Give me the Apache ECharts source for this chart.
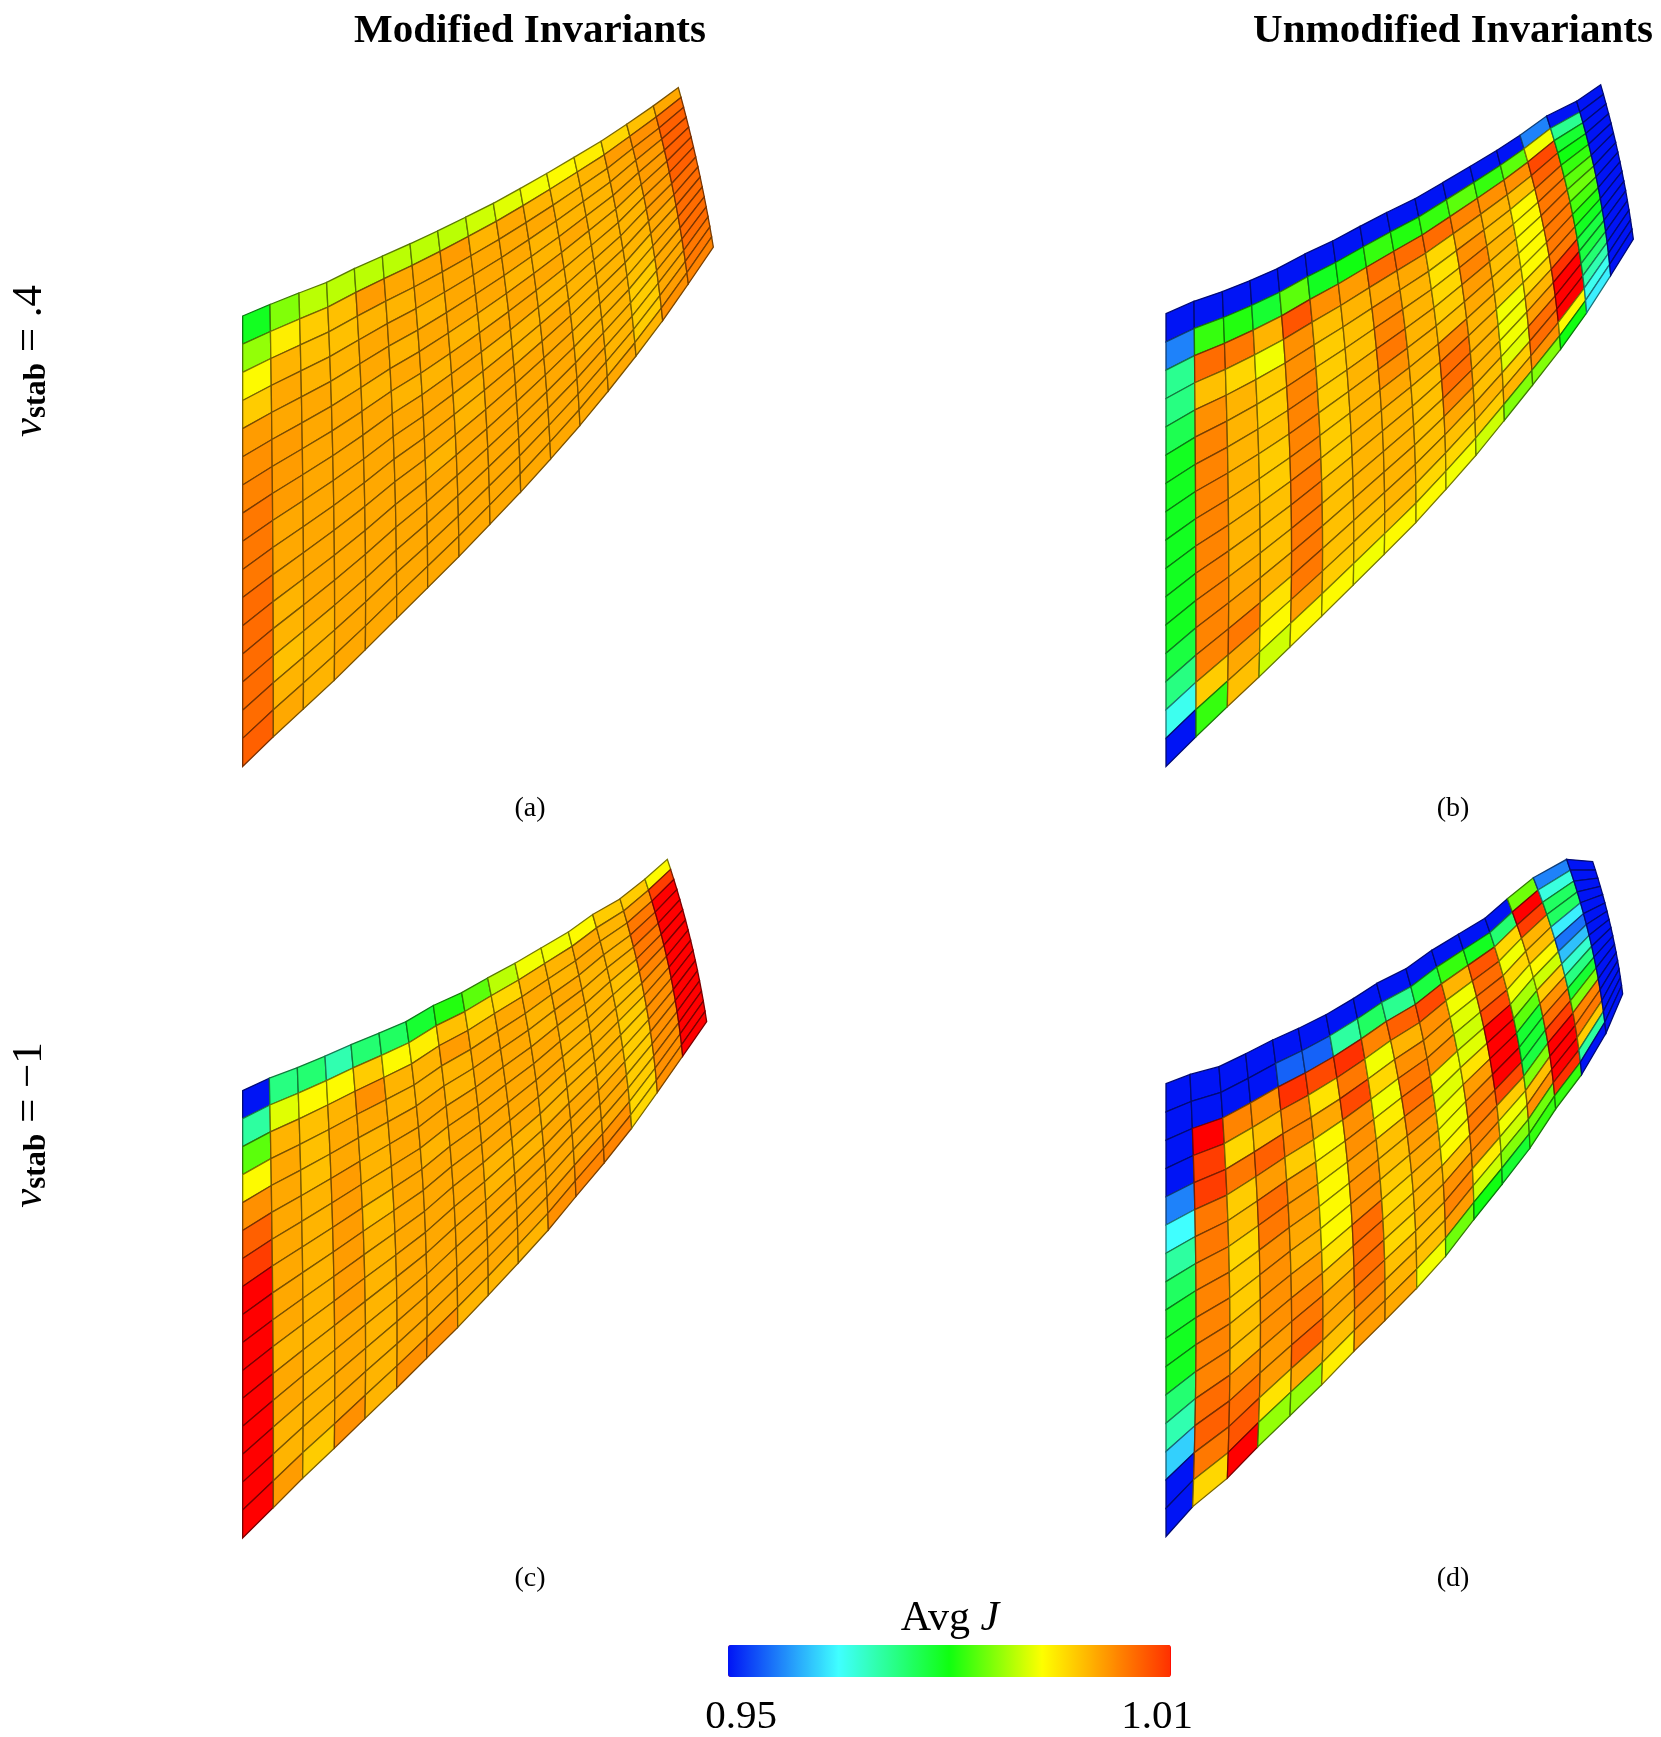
<!DOCTYPE html>
<html><head><meta charset="utf-8"><style>html,body{margin:0;padding:0;background:#fff}#c{width:1661px;height:1737px}</style>
<script src="https://cdn.jsdelivr.net/npm/echarts@6/dist/echarts.min.js"></script></head>
<body><div id="c"></div>
<script>
const columnTitles=['Modified Invariants','Unmodified Invariants'];
const panelLabels=['(a)','(b)','(c)','(d)'];
const colorbarTitle='Avg ';
const colorbarTicks=['0.95','1.01'];
const rowValues=['.4','\u22121'];

// mesh edge curves, in mesh units [x,y], one point per column line
const aTop=[[68,535],[150,510],[237,485],[320,462],[403,432],[487,405],[570,378],[653,350],[737,320],[820,290],[900,258],[980,225],[1062,190],[1143,155],[1220,118],[1300,78],[1375,38]];
const aMid=[[68,1025],[158,980],[249,937],[340,893],[431,846],[520,797],[610,753],[699,705],[789,655],[877,604],[961,553],[1046,500],[1128,445],[1209,390],[1286,329],[1362,271],[1434,211]];
const aBot=[[68,1515],[160,1450],[250,1390],[343,1327],[436,1261],[530,1193],[623,1126],[717,1058],[810,988],[902,918],[992,846],[1080,773],[1165,698],[1248,622],[1328,545],[1405,465],[1480,385]];
const bTop=[[48,530],[132,503],[217,482],[300,458],[382,432],[465,400],[548,372],[630,340],[710,310],[795,280],[878,245],[960,210],[1040,175],[1110,142],[1190,100],[1280,68],[1352,32]];
const bMid=[[48,1022],[137,976],[235,933],[328,889],[420,843],[510,795],[600,746],[690,696],[778,647],[865,596],[950,541],[1033,486],[1113,431],[1190,375],[1268,314],[1345,256],[1410,200]];
const bBot=[[48,1515],[138,1450],[232,1385],[327,1320],[420,1255],[515,1188],[610,1120],[703,1053],[798,984],[888,912],[978,838],[1063,762],[1148,685],[1232,607],[1310,528],[1382,447],[1450,368]];
const cTop=[[68,545],[148,518],[232,495],[315,470],[393,445],[477,420],[558,395],[640,360],[725,332],[803,300],[885,268],[963,235],[1045,200],[1118,162],[1200,128],[1275,85],[1342,42]];
const cMid=[[68,1032],[158,985],[248,941],[340,896],[430,851],[522,806],[610,762],[695,710],[785,661],[870,610],[955,559],[1035,505],[1118,451],[1195,395],[1273,338],[1347,277],[1412,218]];
const cBot=[[68,1518],[160,1452],[248,1388],[343,1323],[435,1258],[530,1192],[620,1127],[713,1060],[805,990],[895,920],[985,848],[1068,775],[1153,702],[1235,627],[1312,549],[1388,470],[1460,395]];
const dTop=[[48,530],[120,510],[207,493],[287,465],[368,435],[445,410],[528,380],[610,345],[680,312],[768,280],[845,240],[925,205],[1005,170],[1072,128],[1150,82],[1250,42],[1328,47]];
const dMid=[[48,1022],[138,980],[238,940],[328,892],[418,843],[508,797],[598,746],[685,695],[772,643],[858,592],[940,532],[1020,476],[1100,420],[1170,356],[1245,296],[1325,231],[1383,191]];
const dBot=[[48,1515],[128,1450],[232,1388],[323,1320],[420,1252],[515,1185],[612,1112],[705,1045],[800,975],[887,905],[972,825],[1057,748],[1140,670],[1217,585],[1295,510],[1368,420],[1418,335]];

// Avg J per element: one list per mesh column, rows top to bottom
const aValues=[
[.979,.987,.993,.997,1.001,1.002,1.003,1.004,1.004,1.004,1.005,1.005,1.005,1.005,1.005,1.006],
[.986,.994,.999,1,1,1.001,1.001,1.001,1,1,1,.999,.999,.998,.999,1],
[.989,.997,.998,.999,1,1,1,1,1,1,1,1,1,.999,.999,.999],
[.989,.998,.998,.999,.999,1,1,1,1,1,1,1,1,1,1,1],
[.989,1.001,.999,1,1,.999,1,1,1,1,1,1,1,1,1,1],
[.989,1,.999,1,.999,1,.999,1,1,1,1,1,1,1,1,1],
[.989,1,1,.999,1,1,.999,1,1,1,.999,1,1,1,1,1],
[.989,1.001,1,1,1,.999,1,1,.999,.999,1,1,1,1,1,1],
[.990,.999,1,1,1,.999,1,.999,1,1,1,1,1,1,1,1],
[.991,1,1,1,.999,1,1,.999,.999,1,1,1,1,1,1,1],
[.992,.999,1,.999,.999,1,.999,.999,1,1,1,1,1,1,1,1],
[.993,.998,.999,.999,1,.999,.999,.999,.999,.999,.999,.999,1,1,1,1],
[.994,.999,.999,.999,.999,.999,.999,.999,.999,.999,.999,.999,.999,.999,.999,1],
[.996,1.001,1,1,1,.999,.999,.999,.999,.998,.998,.997,.997,.997,.997,.999],
[.998,1.002,1.002,1.001,1.001,1.001,1.001,1.001,1,1,1,1,1,1,1.001,1.002],
[1,1.005,1.006,1.006,1.006,1.006,1.006,1.005,1.005,1.005,1.005,1.005,1.005,1.004,1.004,1.003]];
const bValues=[
[.95,.957,.972,.973,.976,.979,.979,.979,.979,.979,.979,.979,.977,.973,.966,.95],
[.95,.982,1.005,.998,1.002,1.003,1.003,1.003,1.003,1.003,1.003,1.003,1.003,1.003,.997,.982],
[.95,.981,1.004,.996,.999,.999,.999,.999,.999,.999,.999,1,1.001,1.004,1,.998],
[.95,.978,.999,.992,.997,.997,.998,.997,.997,.998,.998,.998,.999,.995,.993,.990],
[.95,.984,1.007,1.002,1.002,1.003,1.003,1.003,1.003,1.004,1.004,1.004,1.004,1.004,1.001,.993],
[.95,.979,1.002,.998,.997,.997,.997,.997,.997,.997,.998,.998,.998,.998,.997,.993],
[.95,.980,1.001,.999,.998,.998,.999,.999,.999,.999,.999,.999,.999,.998,.997,.992],
[.95,.982,1.005,1,1.002,1.003,1.004,1.002,1,.999,.999,.999,.999,.999,.998,.993],
[.95,.981,1.005,1,.999,.999,.999,.999,.999,.998,.998,.998,.998,.998,.996,.993],
[.95,.982,1.005,.996,.995,.996,.997,.998,1.003,1.005,1.005,1.003,1,.998,.996,.992],
[.95,.984,1.003,1,1.002,1.003,1.001,1,.999,.999,.999,.999,.998,.999,.997,.990],
[.95,.982,1.002,.999,.998,.999,.998,.998,.997,.992,.992,.992,.991,.997,.999,.986],
[.95,.984,1.002,.998,.993,.993,.993,.993,.993,.996,.999,1.001,1.005,1.005,1.002,.986],
[.957,.992,1.008,1.006,1.004,1.004,1.004,1.004,1.004,1.004,1.01,1.012,1.012,1.012,.993,.98],
[.95,.972,.978,.980,.982,.984,.985,.983,.981,.979,.977,.977,.974,.97,.966,.964],
[.95,.95,.95,.95,.95,.95,.95,.95,.95,.95,.95,.95,.95,.95,.95,.95]];
const cValues=[
[.95,.971,.984,.993,1.002,1.006,1.009,1.011,1.012,1.012,1.012,1.012,1.012,1.012,1.011,1.012],
[.973,.991,.999,1,1,1,1,1,1,1,.999,1,1,.999,.999,1.001],
[.974,.993,.998,.998,.998,.999,.999,.999,.999,.999,.999,.999,.999,.999,.999,.997],
[.970,.993,.999,1,1,1.001,1.001,1.001,1.001,1.001,1.001,1,1,1,1,1.002],
[.974,.997,1.002,1,.999,.999,.999,.998,.999,.999,.999,.999,.999,.999,.999,.999],
[.975,.993,.999,.999,1,1,1,1,1,1,1,1,1,1,1,1.002],
[.978,.994,.999,.999,1,1,.999,1,1,1,1,1,1,1,1,1.002],
[.981,.998,1.001,.999,.999,1,1,1,1,1,1,1,1,1,1,.999],
[.984,.996,.999,1,1,1,1,1,1,.999,.999,1,1,1,1,.999],
[.989,.996,1,1,1,1,1,1,1,.999,.999,1,1,1,1,.999],
[.992,.999,1,.999,.999,1,1,1,.999,.999,1,1,1,1,1.001,1.002],
[.992,.999,.999,1,1,.999,.999,.999,.999,.999,1,1,1,1,1.002,1.003],
[.993,1,1,.999,.999,.999,.999,.999,.999,.999,.999,1,1,1,1.002,1.003],
[.997,.999,.999,.999,.999,.998,.998,.998,.997,.997,.997,.997,.997,.997,.996,.996],
[.997,1.001,1.004,1.005,1.004,1.004,1.003,1.002,1.002,1.002,1.002,1.002,1.002,1.002,1.002,1.002],
[.993,1.009,1.012,1.012,1.012,1.012,1.012,1.012,1.012,1.012,1.012,1.012,1.012,1.012,1.012,1.012]];
const dValues=[
[.95,.95,.95,.95,.957,.965,.971,.975,.978,.979,.979,.974,.970,.962,.95,.95],
[.95,.95,1.012,1.009,1.009,1.004,1.004,1.003,1.003,1.003,1.003,1.003,1.005,1.006,1.004,.996],
[.95,.95,1.003,.996,1.004,.997,.998,.996,.997,.997,.998,.998,1.002,1.005,1.007,1.012],
[.95,.95,1.002,.998,1.006,1.001,1.005,1.004,1.002,1.002,1.002,1.002,1.001,1.001,.995,.987],
[.95,.955,1.010,1.003,1.003,.997,1.001,1.001,1,.999,1.001,1.003,1.004,1.006,1,.987],
[.95,.955,1.008,.995,1,.993,.994,.993,.993,.993,.995,.998,1,1,.998,.994],
[.95,.971,1.010,1.004,1.008,1.002,1.002,1.001,1.002,1.002,1.005,1.005,1.005,1.004,1.002,1.001],
[.95,.975,1.003,.992,.996,.992,.994,.998,.998,.997,.996,.997,.996,.998,.999,1],
[.95,.972,1.006,.999,1.002,1.004,1.005,1.003,1.001,1,.999,.999,.999,.998,.998,.992],
[.95,.977,1.008,1.002,1.001,1.002,.992,.991,.992,.992,.993,.998,1.002,1.003,1.001,.985],
[.95,.982,.999,.992,.991,.990,.991,.995,1.001,1.003,1.004,1.003,1.002,.994,.990,.980],
[.95,.979,1.007,1.005,1.005,1.008,1.012,1.012,1.012,1.012,1.008,.997,.992,.990,.986,.978],
[.95,.974,.996,.992,.996,.992,.988,.984,.978,.978,.977,.986,.998,1.002,.985,.982],
[.985,1.012,1.009,.999,.998,.993,.990,.997,1.002,1.005,1.009,1.012,1.012,1.012,1.01,.982],
[.957,.967,.975,.975,.964,.956,.961,.968,.973,.978,.986,1.003,1.004,.997,.971,.95],
[.95,.95,.95,.95,.95,.95,.95,.95,.95,.95,.95,.95,.95,.95,.95,.95]];

const meshes=[
 {top:aTop,mid:aMid,bot:aBot,values:aValues,left:220,y:70},
 {top:bTop,mid:bMid,bot:bBot,values:bValues,left:1150,y:70},
 {top:cTop,mid:cMid,bot:cBot,values:cValues,left:220,y:840},
 {top:dTop,mid:dMid,bot:dBot,values:dValues,left:1150,y:840}];

// colour scale
const anchors=[[0,[0,20,245]],[.25,[64,255,255]],[.5,[16,255,16]],[.71,[255,255,0]],[1,[255,48,0]]];
const palette=[];
for(let k=0;k<=24;k++){const t=k/24;let n=0;while(n<anchors.length-2&&t>anchors[n+1][0])n++;
 const A=anchors[n],B=anchors[n+1],f=(t-A[0])/(B[0]-A[0]);
 palette.push('rgb('+A[1].map((v,q)=>Math.round(v+(B[1][q]-v)*f)).join(',')+')');}

function node(m,i,j){const s=j/16,a=(1-s)*(1-2*s),b=4*s*(1-s),c=s*(2*s-1);
 return [0,1].map(q=>m.top[i][q]*a+m.mid[i][q]*b+m.bot[i][q]*c);}
function darker(color){const p=echarts.color.parse(color);return 'rgb('+[p[0],p[1],p[2]].map(v=>Math.round(v*.48)).join(',')+')';}
function mk(m){return function(params,api){
 const i=api.value(0),j=api.value(1);
 const pts=[node(m,i,j),node(m,i+1,j),node(m,i+1,j+1),node(m,i,j+1)].map(p=>api.coord(p));
 const fill=api.visual('color');
 return {type:'polygon',shape:{points:pts},style:{fill:fill,stroke:darker(fill),lineWidth:1.3}};};}

const serif='"Liberation Serif","Times New Roman",serif';
const grids=[],xAxes=[],yAxes=[],series=[];
meshes.forEach((m,k)=>{
 grids.push({left:m.left,top:m.y,width:510,height:720,show:false});
 xAxes.push({type:'value',gridIndex:k,min:0,max:1530,show:false});
 yAxes.push({type:'value',gridIndex:k,min:0,max:1566,inverse:true,show:false});
 const d=[];m.values.forEach((col,i)=>col.forEach((v,j)=>d.push([i,j,v])));
 series.push({type:'custom',xAxisIndex:k,yAxisIndex:k,dimensions:['column','row','avgJ'],encode:{x:0,y:1},renderItem:mk(m),data:d,silent:true,animation:false,clip:false});
});
function txt(x,y,text,size,extra){return {type:'text',x:x,y:y,silent:true,style:Object.assign({text:text,font:size+'px '+serif,fill:'#000',align:'center',verticalAlign:'middle'},extra||{})};}
function rowLabel(y,val){return {type:'text',x:30,y:y,rotation:Math.PI/2,silent:true,style:{
 text:'{nu|\u03bd}{sub|stab}{eq| = '+val+'}',align:'center',verticalAlign:'middle',fill:'#000',
 rich:{nu:{font:'italic 43px '+serif,verticalAlign:'middle',fill:'#000'},sub:{font:'bold 31px '+serif,verticalAlign:'bottom',padding:[14,0,0,0],fill:'#000'},eq:{font:'43px '+serif,verticalAlign:'middle',fill:'#000'}}}};}
const graphics=[
 txt(530,31,columnTitles[0],41,{font:'bold 41px '+serif}),
 txt(1453,31,columnTitles[1],41,{font:'bold 41px '+serif}),
 txt(530,809,panelLabels[0],28),txt(1453,809,panelLabels[1],28),
 txt(530,1579,panelLabels[2],28),txt(1453,1579,panelLabels[3],28),
 {type:'text',x:950,y:1619,silent:true,style:{text:'{a|'+colorbarTitle+'}{b|J}',align:'center',verticalAlign:'middle',fill:'#000',rich:{a:{font:'42px '+serif,fill:'#000'},b:{font:'italic 42px '+serif,fill:'#000'}}}},
 txt(741,1717,colorbarTicks[0],41),txt(1157,1717,colorbarTicks[1],41),
 rowLabel(361,rowValues[0]),rowLabel(1125,rowValues[1])];

const chart=echarts.init(document.getElementById('c'),null,{renderer:'canvas'});
chart.setOption({animation:false,backgroundColor:'#fff',grid:grids,xAxis:xAxes,yAxis:yAxes,series:series,
 visualMap:{type:'continuous',seriesIndex:[0,1,2,3],dimension:2,min:.95,max:1.0101,range:[.95,1.01],calculable:false,realtime:false,orient:'horizontal',left:728,top:1645,itemWidth:32,itemHeight:443,showLabel:false,text:null,padding:0,inRange:{color:palette},outOfRange:{color:'#ff0000'},hoverLink:false},
 graphic:{elements:graphics}});
</script></body></html>
